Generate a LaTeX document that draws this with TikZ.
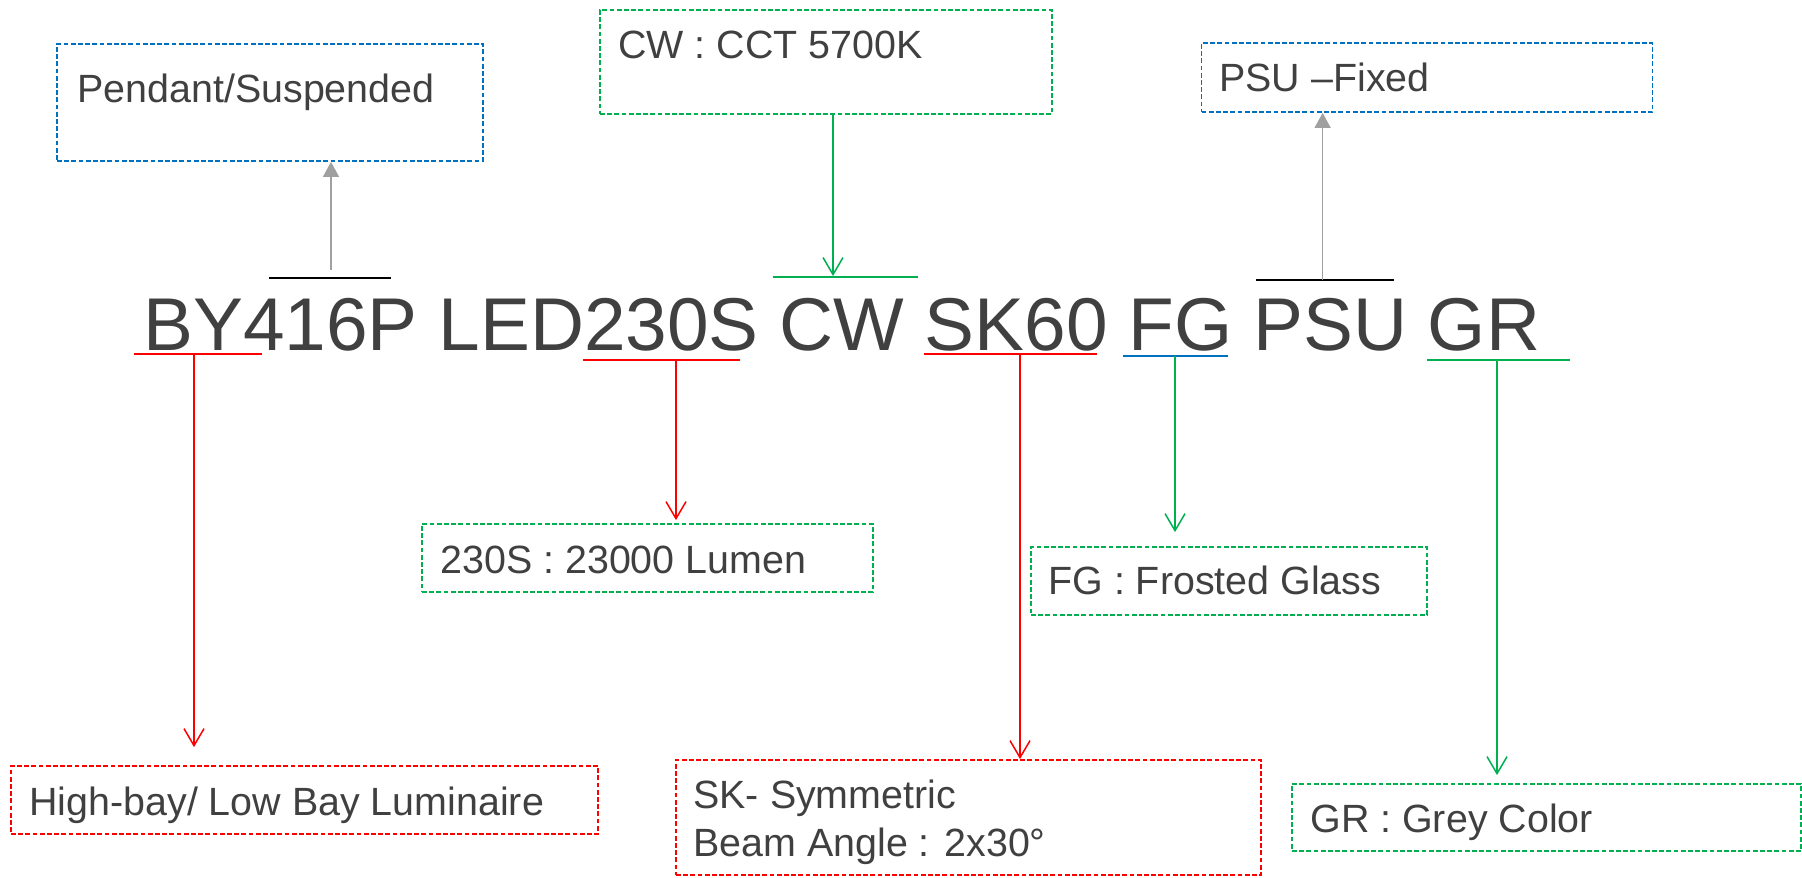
\documentclass[tikz,border=0pt]{standalone}
\usepackage{fontspec}
\setmainfont{Liberation Sans}
\usetikzlibrary{arrows.meta,calc}
\definecolor{txtgray}{HTML}{404040}
\definecolor{myred}{HTML}{FF0000}
\definecolor{mygreen}{HTML}{00B050}
\definecolor{myblue}{HTML}{0070C0}
\definecolor{arrgray}{HTML}{A0A0A0}
\begin{document}
\begin{tikzpicture}[x=0.5pt,y=-0.5pt,
  box/.style={draw,line width=0.9pt,dash pattern=on 2.4pt off 1.2pt,inner sep=0pt},
  txt/.style={font=\fontsize{19.7pt}{24pt}\selectfont,text=txtgray,inner sep=0pt,anchor=base west},
  maintxt/.style={font=\fontsize{37.4pt}{45pt}\selectfont,text=txtgray,inner sep=0pt,anchor=base west},
  uline/.style={line width=1pt},
  oline/.style={line width=1.4pt,black},
  downarr/.style={line width=0.75pt,-{Straight Barb[length=8.5pt,width=10pt,line width=0.75pt]}},
  uparr/.style={line width=0.75pt,arrgray,-{Triangle[length=7.5pt,width=8pt]}}
]
\useasboundingbox (0,0) rectangle (1802,877);

% main code
\node[maintxt] (code) at (143,350) {BY416P LED230S CW SK60 FG PSU GR};

% boxes
\node[box,myblue,minimum width=213pt,minimum height=58.5pt] (pend) at (270,102.5) {};
\node[box,mygreen,minimum width=226pt,minimum height=52pt] (cw) at (826,62) {};
\node[box,myblue,minimum width=225.5pt,minimum height=34.5pt] (psu) at (1427,77.5) {};
\node[box,myred,minimum width=293.5pt,minimum height=34pt] (hb) at (304.5,800) {};
\node[box,mygreen,minimum width=225.5pt,minimum height=34pt] (lum) at (647.5,558) {};
\node[box,myred,minimum width=292.5pt,minimum height=57.5pt] (sk) at (968.5,817.5) {};
\node[box,mygreen,minimum width=198pt,minimum height=34pt] (fg) at (1229,581) {};
\node[box,mygreen,minimum width=254.5pt,minimum height=33.5pt] (gr) at (1546.5,817.5) {};

% box texts
\node[txt] (pendt) at (77,103) {Pendant/Suspended};
\node[txt] (cwt) at (618,59) {CW : CCT 5700K};
\node[txt] (psut) at (1219,92) {PSU –Fixed};
\node[txt] (hbt) at (29,815) {High-bay/ Low Bay Luminaire};
\node[txt] (lumt) at (440,573) {230S : 23000 Lumen};
\node[txt] (skt1) at (693,808) {SK- Symmetric};
\node[txt] (skt2) at (693,856) {Beam Angle : 2x30°};
\node[txt] (fgt) at (1048,594) {FG : Frosted Glass};
\node[txt] (grt) at (1310,832) {GR : Grey Color};

% underline / overline coordinates
\coordinate (byL) at (134,354);  \coordinate (byR) at (262,354);  \coordinate (byM) at (194,354);
\coordinate (lmL) at (583,360);  \coordinate (lmR) at (740,360);  \coordinate (lmM) at (676,360);
\coordinate (skL) at (924,354);  \coordinate (skR) at (1097,354); \coordinate (skM) at (1020,354);
\coordinate (fgL) at (1123,356); \coordinate (fgR) at (1228,356); \coordinate (fgM) at (1175,356);
\coordinate (grL) at (1427,360); \coordinate (grR) at (1570,360); \coordinate (grM) at (1497,360);
\coordinate (cwL) at (772.5,277); \coordinate (cwR) at (917.5,277); \coordinate (cwM) at (833,277);
\coordinate (pdL) at (269,278);  \coordinate (pdR) at (391,278);  \coordinate (pdM) at (331,278);
\coordinate (psL) at (1256,280); \coordinate (psR) at (1394,280); \coordinate (psM) at (1322.6,280);

\draw[uline,myred] (byL) -- (byR);
\draw[uline,myred] (lmL) -- (lmR);
\draw[uline,myred] (skL) -- (skR);
\draw[uline,myblue] (fgL) -- (fgR);
\draw[uline,mygreen] (grL) -- (grR);
\draw[uline,mygreen] (cwL) -- (cwR);
\draw[oline] (pdL) -- (pdR);
\draw[oline] (psL) -- (psR);

% connectors
\draw[downarr,myred,shorten >=9pt] (byM) -- (byM |- hb.north);
\draw[downarr,myred,shorten >=1.5pt] (lmM) -- (lmM |- lum.north);
\draw[downarr,myred] (skM) -- (skM |- sk.north);
\draw[downarr,mygreen,shorten >=7pt] (fgM) -- (fgM |- fg.north);
\draw[downarr,mygreen,shorten >=4pt] (grM) -- (grM |- gr.north);
\draw[downarr,mygreen,shorten >=0.5pt] (cwM |- cw.south) -- (cwM);
\draw[uparr,shorten <=4pt] (pdM) -- (pdM |- pend.south);
\draw[uparr] (psM) -- (psM |- psu.south);
\end{tikzpicture}
\end{document}
